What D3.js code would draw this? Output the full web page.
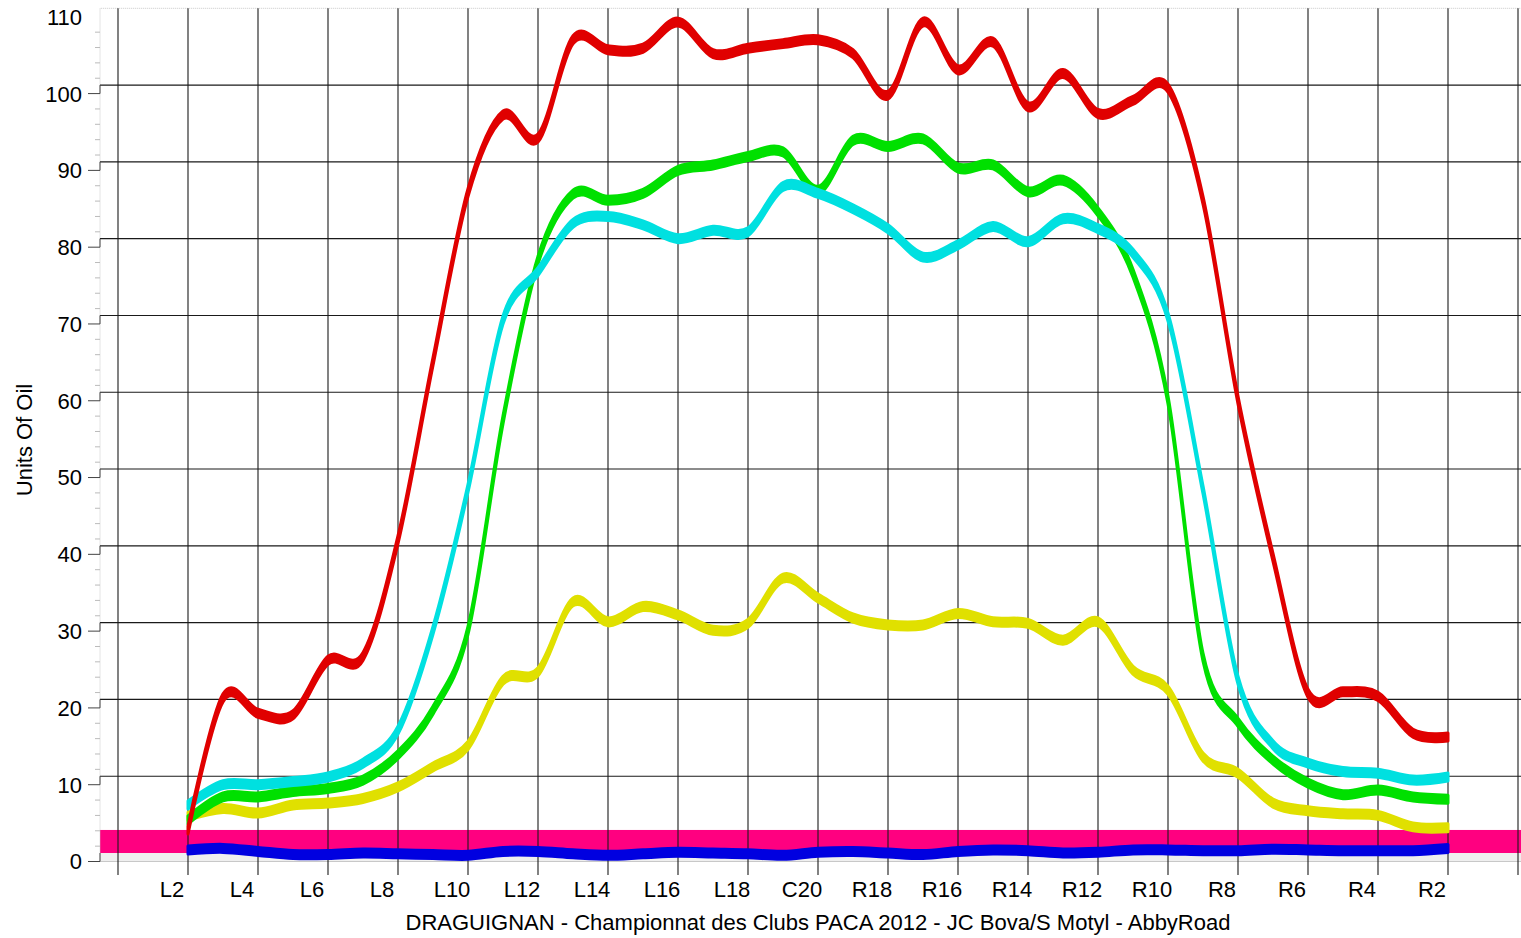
<!DOCTYPE html>
<html>
<head>
<meta charset="utf-8">
<script src="https://cdn.jsdelivr.net/npm/d3@7"></script>
<style>
  body { margin: 0; background: #fff; }
  svg { display: block; font-family: "Liberation Sans", Arial, sans-serif; }
</style>
</head>
<body>
<script>
// lanes along the x axis, left to right
const categories = [
  "L2","L3","L4","L5","L6","L7","L8","L9","L10","L11","L12","L13","L14","L15","L16","L17","L18","L19",
  "C20",
  "R19","R18","R17","R16","R15","R14","R13","R12","R11","R10","R9","R8","R7","R6","R5","R4","R3","R2"
];
// only every second lane gets a label
const tickLabels = categories.filter((c, i) => i % 2 === 0);

const yTicks = [0, 10, 20, 30, 40, 50, 60, 70, 80, 90, 100, 110];

// series values
const redValues = [3.0, 20.2, 18.2, 18.0, 25.1, 25.6, 40.8, 64, 86, 96.1, 93.1, 105.9, 104.6, 104.8, 108.2, 104.1, 104.8, 105.4,
  105.9,
  104.1, 98.7, 108.2, 102, 105.6, 97.2, 101.5, 96.3, 98, 99.6, 85, 59, 38.5, 20.8, 21, 20.4, 15.6, 15.1];
const greenValues = [4.3, 7.3, 7.3, 8.0, 8.4, 9.5, 12.8, 18.6, 29, 56.4, 77.2, 85.8, 85.0, 85.9, 88.9, 89.6, 90.7, 91.3,
  86.3,
  92.8, 92, 93, 89.2, 89.6, 86.1, 87.6, 83.5, 75.5, 59, 25.5, 17.0, 12.1, 9.1, 7.6, 8.2, 7.3, 7.0];
const cyanValues = [6.25, 8.9, 8.9, 9.3, 9.9, 11.7, 16.0, 29, 47.5, 69.4, 75.7, 82, 82.9, 81.8, 80.0, 81.1, 80.9, 86.8,
  85.9,
  83.9, 81.3, 77.6, 79.2, 81.6, 79.6, 82.6, 81.3, 78.1, 69.8, 47.3, 22.5, 14.1, 11.7, 10.6, 10.4, 9.5, 9.9];
const yellowValues = [4.8, 5.8, 5.2, 6.25, 6.5, 7.1, 8.6, 11.2, 14.0, 22.5, 23.6, 32.7, 30.1, 32.1, 31, 29, 29.9, 35.8,
  33.2,
  30.6, 29.7, 29.7, 31.2, 30.1, 29.9, 27.7, 30.1, 23.8, 21.2, 12.5, 10.4, 6.5, 5.5, 5.1, 4.9, 3.4, 3.3];
const blueValues = [0.4, 0.6, 0.2, -0.2, -0.2, 0.0, -0.1, -0.2, -0.3, 0.2, 0.2, -0.1, -0.3, -0.1, 0.1, 0.0, -0.1, -0.3,
  0.1,
  0.2, 0.0, -0.2, 0.2, 0.4, 0.3, 0.0, 0.1, 0.4, 0.4, 0.3, 0.3, 0.5, 0.4, 0.3, 0.3, 0.3, 0.6];
// reference band (low / high)
const bandValues = [0, 3];

const xTitle = "DRAGUIGNAN - Championnat des Clubs PACA 2012 - JC Bova/S Motyl - AbbyRoad";
const yTitle = "Units Of Oil";

const width = 1521, height = 938;
const plotLeft = 100, plotRight = 1521, plotTop = 8.3, plotFloor = 853;
const depthX = -16, depthY = 8.5; // labels sit on the "front" plane, grid on the back wall
const fontSize = 22;

const x = d3.scaleLinear().domain([-2, 38]).range([118, 1518]);
const y = d3.scaleLinear().domain([0, 110]).range([plotFloor, plotTop]);

const svg = d3.select("body").append("svg")
  .attr("width", width)
  .attr("height", height);

// pink reference band
svg.append("rect")
  .attr("x", plotLeft)
  .attr("width", plotRight - plotLeft)
  .attr("y", y(bandValues[1]))
  .attr("height", y(bandValues[0]) - y(bandValues[1]))
  .attr("fill", "#ff0080");

// floor strip
svg.append("rect")
  .attr("x", plotLeft)
  .attr("width", plotRight - plotLeft)
  .attr("y", plotFloor)
  .attr("height", depthY)
  .attr("fill", "#efefef");
svg.append("line")
  .attr("x1", plotLeft).attr("x2", plotRight)
  .attr("y1", plotFloor + depthY).attr("y2", plotFloor + depthY)
  .attr("stroke", "#c8c8c8");

// top + left frame, dotted
svg.append("path")
  .attr("d", `M${plotLeft},${plotFloor + depthY}V${plotTop}H${plotRight}`)
  .attr("fill", "none")
  .attr("stroke", "#c8c8c8")
  .attr("stroke-dasharray", "1,1");

// horizontal grid
svg.append("g").selectAll("line")
  .data(yTicks.filter(v => v > 0 && v < 110))
  .enter().append("line")
  .attr("x1", plotLeft).attr("x2", plotRight)
  .attr("y1", d => y(d)).attr("y2", d => y(d))
  .attr("stroke", "#1a1a1a")
  .attr("stroke-width", 1.1);

// vertical grid, running down past the floor as ticks
svg.append("g").selectAll("line")
  .data(d3.range(-2, 39, 2))
  .enter().append("line")
  .attr("x1", d => x(d)).attr("x2", d => x(d))
  .attr("y1", plotTop).attr("y2", 875)
  .attr("stroke", "#1a1a1a")
  .attr("stroke-width", 1.1);

// y axis: minor ticks, major ticks with a small step up to the grid line
const yAxis = svg.append("g");
yAxis.selectAll("line.minor")
  .data(d3.range(0, 111, 2).filter(v => v % 10 !== 0))
  .enter().append("line")
  .attr("class", "minor")
  .attr("x1", plotLeft - 5).attr("x2", plotLeft)
  .attr("y1", d => y(d) + depthY).attr("y2", d => y(d) + depthY)
  .attr("stroke", "#bbb");
yAxis.selectAll("path.major")
  .data(yTicks.filter(v => v < 110))
  .enter().append("path")
  .attr("class", "major")
  .attr("d", d => `M${plotLeft - 12},${y(d) + depthY}H${plotLeft}V${y(d)}`)
  .attr("fill", "none")
  .attr("stroke", "#444");
yAxis.selectAll("text")
  .data(yTicks)
  .enter().append("text")
  .attr("x", plotLeft - 18)
  .attr("y", d => y(d) + depthY)
  .attr("dy", "0.36em")
  .attr("text-anchor", "end")
  .attr("font-size", fontSize)
  .text(d => d);

// x labels
svg.append("g").selectAll("text")
  .data(tickLabels)
  .enter().append("text")
  .attr("x", d => x(categories.indexOf(d)) + depthX)
  .attr("y", 897)
  .attr("text-anchor", "middle")
  .attr("font-size", fontSize)
  .text(d => d);

// titles
svg.append("text")
  .attr("x", x(categories.indexOf("C20")))
  .attr("y", 930)
  .attr("text-anchor", "middle")
  .attr("font-size", fontSize)
  .text(xTitle);

svg.append("text")
  .attr("transform", "translate(32,440) rotate(-90)")
  .attr("text-anchor", "middle")
  .attr("font-size", fontSize)
  .text(yTitle);

// series drawn as a flat pen: tall band that thins on steep parts
const area = d3.area()
  .x((d, i) => x(i))
  .y0(d => y(d) - 4)
  .y1(d => y(d) + 4)
  .curve(d3.curveCardinal.tension(0));

const series = [
  { values: blueValues, color: "#0000e0" },
  { values: yellowValues, color: "#e0e000" },
  { values: greenValues, color: "#00e000" },
  { values: cyanValues, color: "#00e0e0" },
  { values: redValues, color: "#e00000" }
];

svg.append("g").selectAll("path")
  .data(series)
  .enter().append("path")
  .attr("d", d => area(d.values))
  .attr("fill", d => d.color)
  .attr("stroke", d => d.color)
  .attr("stroke-width", 3)
  .attr("stroke-linejoin", "round");
</script>
</body>
</html>
